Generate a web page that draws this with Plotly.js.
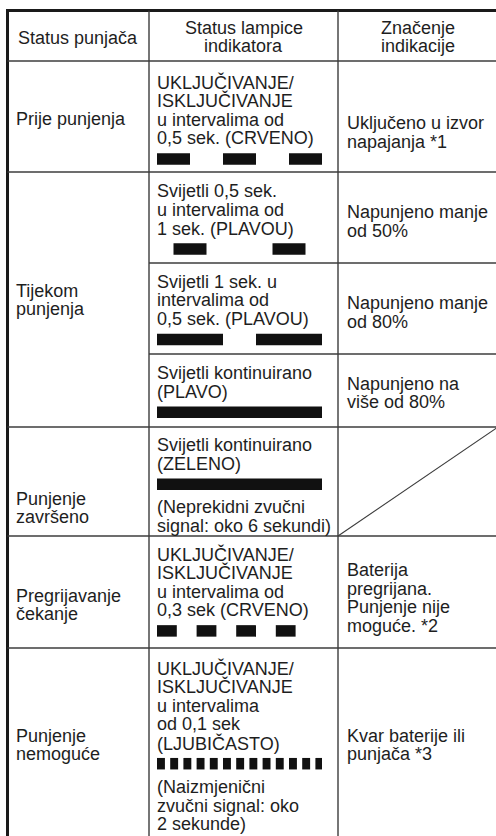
<!DOCTYPE html>
<html>
<head>
<meta charset="utf-8">
<script src="https://cdn.plot.ly/plotly-3.0.1.min.js"></script>
<style>
html,body{margin:0;padding:0;background:#fff;}
#chart{width:496px;height:836px;}
</style>
</head>
<body>
<div id="chart"></div>
<script>
// ---------------- DATA ----------------
const headers = [["Status punjača"], ["Status lampice", "indikatora"], ["Značenje", "indikacije"]];

const statusLabels = [
  ["Prije punjenja"],
  ["Tijekom", "punjenja"],
  ["Punjenje", "završeno"],
  ["Pregrijavanje", "čekanje"],
  ["Punjenje", "nemoguće"]
];

const lampBefore = [
  ["UKLJUČIVANJE/", "ISKLJUČIVANJE", "u intervalima od", "0,5 sek. (CRVENO)"],
  ["Svijetli 0,5 sek.", "u intervalima od", "1 sek. (PLAVOU)"],
  ["Svijetli 1 sek. u", "intervalima od", "0,5 sek. (PLAVOU)"],
  ["Svijetli kontinuirano", "(PLAVO)"],
  ["Svijetli kontinuirano", "(ZELENO)"],
  ["UKLJUČIVANJE/", "ISKLJUČIVANJE", "u intervalima od", "0,3 sek (CRVENO)"],
  ["UKLJUČIVANJE/", "ISKLJUČIVANJE", "u intervalima", "od 0,1 sek", "(LJUBIČASTO)"]
];

const lampAfter = [
  [], [], [], [],
  ["(Neprekidni zvučni", "signal: oko 6 sekundi)"],
  [],
  ["(Naizmjenični", "zvučni signal: oko", "2 sekunde)"]
];

// Blink patterns in seconds, alternating OFF, ON, OFF, ON ... (first value = initial off time)
const blinkRed05    = [0, 0.5, 0.5, 0.5, 0.5, 0.5];
const blinkBlue05   = [0.25, 0.5, 1, 0.5];
const blinkBlue1    = [0, 1, 0.5, 1];
const blinkBlueOn   = [0, 2.5];
const blinkGreenOn  = [0, 2.5];
const blinkRed03    = [0, 0.3, 0.3, 0.3, 0.3, 0.3, 0.3, 0.3];
const blinkViolet01 = [0, 0.12, 0.08, 0.12, 0.08, 0.12, 0.08, 0.12, 0.08, 0.12, 0.08, 0.12, 0.08,
                       0.12, 0.08, 0.12, 0.08, 0.12, 0.08, 0.12, 0.08, 0.12, 0.08, 0.12, 0.08, 0.12];
const blinkPatterns = [blinkRed05, blinkBlue05, blinkBlue1, blinkBlueOn, blinkGreenOn, blinkRed03, blinkViolet01];

const meanings = [
  ["Uključeno u izvor", "napajanja *1"],
  ["Napunjeno manje", "od 50%"],
  ["Napunjeno manje", "od 80%"],
  ["Napunjeno na", "više od 80%"],
  [],
  ["Baterija", "pregrijana.", "Punjenje nije", "moguće. *2"],
  ["Kvar baterije ili", "punjača *3"]
];

// ---------------- LAYOUT (geometry) ----------------
const W = 496, H = 836;
const colX = [7.5, 149, 338, 498];
const headTop = 10.5, headBottom = 61;
const lampTops = [61, 172, 263, 354, 427, 536, 648];
const lampBottoms = [172, 263, 354, 427, 536, 648, 900];
const statusTops = [61, 172, 427, 536, 648];
const statusY = [119, 300, 508, 605, 745];        // centre of label block
const meaningY = [132.5, 221.5, 312.5, 393, null, 598, 745];
const firstOff = [21, 19, 18.5, 19, 18, 18, 20];
const LH = 18.8, BAR_GAP = 20.5, AFTER_GAP = 23, BAR_H = 11.5;
const FONT = {family: "Liberation Sans, Arial, Helvetica, sans-serif", size: 18, color: "#1e1e1e"};

const annotations = [];
function addText(txt, x, y, anchor) {
  annotations.push({text: txt, x: x, y: y, xref: "x", yref: "y", showarrow: false,
    xanchor: anchor || "left", yanchor: "middle", borderpad: 0, borderwidth: 0, font: FONT});
}
function addBlock(lines, x, centre, anchor) {
  const n = lines.length;
  lines.forEach((t, i) => addText(t, x, centre + (i - (n - 1) / 2) * LH, anchor));
}

// headers
addBlock(headers[0], (colX[0] + colX[1]) / 2, 38, "center");
addBlock(headers[1], (colX[1] + colX[2]) / 2, 37, "center");
addBlock(headers[2], (colX[2] + colX[3]) / 2, 37, "center");

// status labels
statusLabels.forEach((lines, i) => addBlock(lines, 16, statusY[i], "left"));

// meanings
meanings.forEach((lines, i) => { if (lines.length) addBlock(lines, 347, meaningY[i], "left"); });

// lamp cells + bar positions
const barY = [], barX = [], barBase = [];
lampBefore.forEach((lines, i) => {
  let y = lampTops[i] + firstOff[i];
  lines.forEach((t, k) => { addText(t, 157, y, "left"); if (k < lines.length - 1) y += LH; });
  const by = y + BAR_GAP;
  const p = blinkPatterns[i];
  let t = 0;
  for (let k = 0; k < p.length; k++) {
    if (k % 2 === 1) { barY.push(by); barX.push(p[k]); barBase.push(t); }
    t += p[k];
  }
  let ay = by + AFTER_GAP;
  lampAfter[i].forEach(tx => { addText(tx, 157, ay, "left"); ay += LH; });
});

// grid lines
const shapes = [];
const LINE = {color: "#3c3c3c", width: 1.4};
const THICK = {color: "#1a1a1a", width: 3};
function seg(x0, y0, x1, y1, line) {
  shapes.push({type: "line", xref: "x", yref: "y", x0: x0, y0: y0, x1: x1, y1: y1, line: line, layer: "above"});
}
seg(colX[0] - 1.5, headTop, 500, headTop, THICK);
seg(colX[0], headTop, colX[0], H + 5, THICK);
seg(colX[1], headTop, colX[1], H + 5, LINE);
seg(colX[2], headTop, colX[2], H + 5, LINE);
seg(colX[0], headBottom, 500, headBottom, LINE);
statusTops.slice(1).forEach(y => seg(colX[0], y, 500, y, LINE));
[263, 354].forEach(y => seg(colX[1], y, 500, y, LINE));
// diagonal in empty meaning cell
seg(colX[2], lampBottoms[4], colX[3], lampTops[4], {color: "#3c3c3c", width: 1.1});

const trace = {
  type: "bar", orientation: "h",
  x: barX, base: barBase, y: barY, width: BAR_H,
  xaxis: "x2", yaxis: "y",
  marker: {color: "#111111", line: {width: 0}},
  hoverinfo: "skip", showlegend: false
};

const layout = {
  width: W, height: H,
  margin: {l: 0, r: 0, t: 0, b: 0, pad: 0},
  paper_bgcolor: "#ffffff", plot_bgcolor: "#ffffff",
  showlegend: false,
  xaxis: {range: [0, W], visible: false, fixedrange: true},
  xaxis2: {range: [0, 2.5], domain: [157 / W, 322 / W], anchor: "y", visible: false, fixedrange: true},
  yaxis: {range: [H, 0], visible: false, fixedrange: true},
  shapes: shapes,
  annotations: annotations
};

Plotly.newPlot("chart", [trace], layout, {staticPlot: true, displayModeBar: false});
</script>
</body>
</html>
